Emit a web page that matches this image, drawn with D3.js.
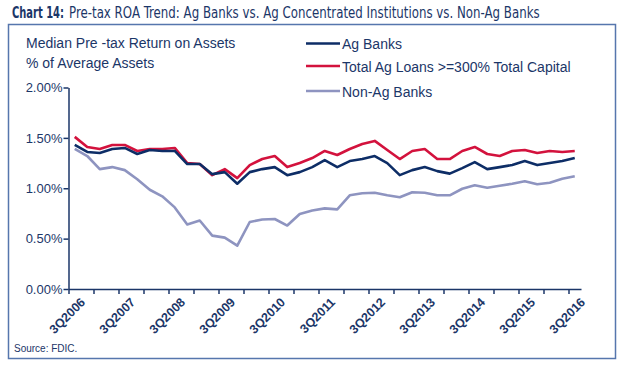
<!DOCTYPE html>
<html>
<head>
<meta charset="utf-8">
<script src="https://cdn.jsdelivr.net/npm/d3@7"></script>
<style>
  body { margin: 0; background: #fff; }
  svg text { font-family: "Liberation Sans", Arial, sans-serif; fill: #1b3668; }
</style>
</head>
<body>
<div id="chart"></div>
<script>
// quarters on the category axis, 3Q2006 .. 3Q2016
var quarters = ["3Q2006","4Q2006","1Q2007","2Q2007","3Q2007","4Q2007","1Q2008","2Q2008",
    "3Q2008","4Q2008","1Q2009","2Q2009","3Q2009","4Q2009","1Q2010","2Q2010",
    "3Q2010","4Q2010","1Q2011","2Q2011","3Q2011","4Q2011","1Q2012","2Q2012",
    "3Q2012","4Q2012","1Q2013","2Q2013","3Q2013","4Q2013","1Q2014","2Q2014",
    "3Q2014","4Q2014","1Q2015","2Q2015","3Q2015","4Q2015","1Q2016","2Q2016","3Q2016"];

var tickLabels = ["3Q2006","3Q2007","3Q2008","3Q2009","3Q2010","3Q2011",
    "3Q2012","3Q2013","3Q2014","3Q2015","3Q2016"];

var yTicks = [0, 0.5, 1, 1.5, 2];

// median pre-tax ROA, % of average assets
var agBanks = [1.43,1.36,1.35,1.39,1.40,1.34,1.38,1.37,1.37,1.24,1.24,
    1.14,1.16,1.045,1.16,1.19,1.21,1.13,1.16,1.21,1.28,
    1.21,1.27,1.29,1.32,1.25,1.13,1.18,1.21,1.17,1.145,
    1.20,1.26,1.19,1.21,1.23,1.27,1.23,1.25,1.27,1.30];

var agConcentrated = [1.51,1.41,1.39,1.43,1.43,1.37,1.39,1.39,1.40,1.25,1.24,
    1.13,1.19,1.10,1.23,1.29,1.32,1.21,1.25,1.30,1.37,
    1.33,1.39,1.44,1.47,1.38,1.29,1.37,1.39,1.29,1.29,
    1.37,1.41,1.34,1.32,1.37,1.38,1.35,1.37,1.36,1.37];

var nonAgBanks = [1.39,1.32,1.19,1.21,1.18,1.09,0.985,0.92,0.81,0.64,0.68,
    0.53,0.51,0.43,0.665,0.69,0.695,0.63,0.745,0.78,0.80,
    0.79,0.93,0.95,0.955,0.93,0.91,0.96,0.955,0.93,0.93,
    0.995,1.03,1.005,1.025,1.045,1.07,1.04,1.055,1.095,1.12];

var seriesNames = ["Ag Banks", "Total Ag Loans >=300% Total Capital", "Non-Ag Banks"];
var seriesColors = ["#0d2d66", "#d3123d", "#8e94c0"];
var seriesValues = [agBanks, agConcentrated, nonAgBanks];

var width = 623, height = 367;
var navy = "#1b3668";

var svg = d3.select("#chart").append("svg")
    .attr("width", width)
    .attr("height", height);

// outer frame
svg.append("rect")
    .attr("x", 8.5).attr("y", 24.5)
    .attr("width", 607).attr("height", 334)
    .attr("fill", "none")
    .attr("stroke", "#5676ad")
    .attr("stroke-width", 1.5);

// title, in two pieces, each squeezed horizontally to the reference width
var condensed = "'Liberation Sans Narrow', 'DejaVu Sans Condensed', sans-serif";
function squeezedText(str, x0, w, bold) {
    var g = svg.append("g");
    var t = g.append("text")
        .attr("x", 0).attr("y", 0)
        .style("font-family", condensed)
        .style("font-size", "15px")
        .style("font-weight", bold ? "bold" : "normal")
        .text(str);
    var natural = t.node().getComputedTextLength();
    g.attr("transform", "translate(" + x0 + ",18) scale(" + (w / natural) + ",1)");
}
squeezedText("Chart 14:", 12, 52, true);
squeezedText("Pre-tax ROA Trend: Ag Banks vs. Ag Concentrated Institutions vs. Non-Ag Banks", 69, 471, false);

// scales
var x = d3.scaleBand()
    .domain(quarters)
    .range([68.5, 581])
    .paddingInner(0).paddingOuter(0);

var xEdge = d3.scaleLinear()
    .domain([0, quarters.length])
    .range([68.5, 581]);

var y = d3.scaleLinear()
    .domain([0, 2])
    .range([289, 87.5]);

// y axis title
svg.append("text").attr("x", 26).attr("y", 48)
    .style("font-size", "14px").text("Median Pre -tax Return on Assets");
svg.append("text").attr("x", 26).attr("y", 68)
    .style("font-size", "14px").text("% of Average Assets");

// y axis
var yAxis = svg.append("g")
    .attr("transform", "translate(68.5,0)")
    .call(d3.axisLeft(y).tickValues(yTicks).tickSize(5).tickSizeOuter(0)
        .tickFormat(function(d) { return d.toFixed(2) + "%"; }));
yAxis.select(".domain").attr("stroke", navy).attr("stroke-width", 1.5);
yAxis.selectAll(".tick line").attr("stroke", navy).attr("stroke-width", 1.5);
yAxis.selectAll(".tick text")
    .attr("x", -6)
    .style("font-size", "13px")
    .style("font-family", "'Liberation Sans', Arial, sans-serif")
    .attr("fill", navy);

// x axis: tick marks every two quarters
var xTickAxis = svg.append("g")
    .attr("transform", "translate(0,289)")
    .call(d3.axisBottom(xEdge)
        .tickValues(d3.range(0, quarters.length, 2))
        .tickSize(5).tickSizeOuter(0)
        .tickFormat(""));
xTickAxis.select(".domain").attr("stroke", navy).attr("stroke-width", 1.5);
xTickAxis.selectAll(".tick line").attr("stroke", navy).attr("stroke-width", 1.5);

// x labels, one a year
var xLabelAxis = svg.append("g")
    .attr("transform", "translate(" + (x.bandwidth() / 2) + ",289)")
    .call(d3.axisBottom(x).tickValues(tickLabels).tickSize(0));
xLabelAxis.select(".domain").remove();
xLabelAxis.selectAll(".tick text")
    .attr("y", 0).attr("dy", 0)
    .attr("transform", "translate(5,14) rotate(-45)")
    .style("text-anchor", "end")
    .style("font-size", "12.5px")
    .style("font-weight", "bold")
    .style("font-family", "'Liberation Sans', Arial, sans-serif")
    .attr("fill", navy);

// lines
var line = d3.line()
    .x(function(d, i) { return x(quarters[i]) + x.bandwidth() / 2; })
    .y(function(d) { return y(d); });

svg.append("g").selectAll("path")
    .data([2, 1, 0])
    .enter().append("path")
    .attr("d", function(k) { return line(seriesValues[k]); })
    .attr("fill", "none")
    .attr("stroke", function(k) { return seriesColors[k]; })
    .attr("stroke-width", 2.6)
    .attr("stroke-linejoin", "round");

// legend
var legend = svg.append("g").selectAll("g")
    .data(seriesNames)
    .enter().append("g")
    .attr("transform", function(d, i) { return "translate(306," + [43.5, 66, 91][i] + ")"; });
legend.append("line")
    .attr("x1", 0).attr("x2", 34)
    .attr("stroke", function(d, i) { return seriesColors[i]; })
    .attr("stroke-width", 2.6);
legend.append("text")
    .attr("x", 36).attr("y", 5.5)
    .style("font-size", "14px")
    .text(function(d) { return d; });

// source
svg.append("text").attr("x", 14).attr("y", 352)
    .style("font-size", "10px").text("Source: FDIC.");
</script>
</body>
</html>
